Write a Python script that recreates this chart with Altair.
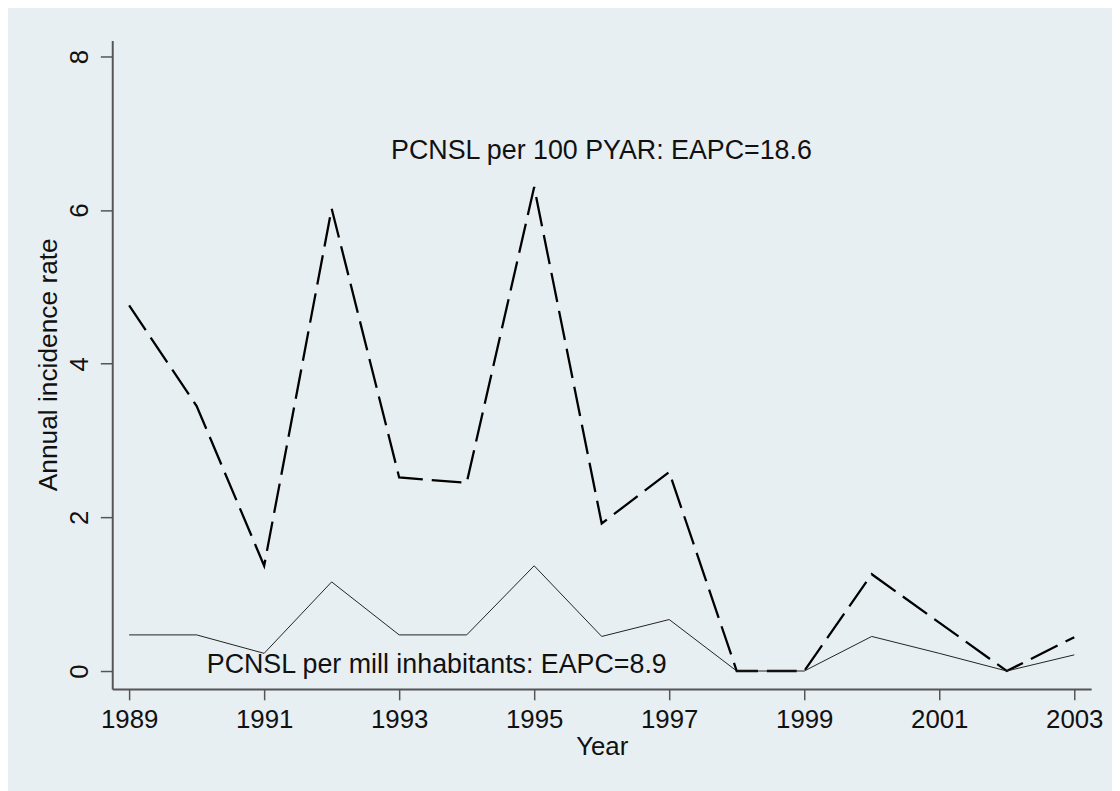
import altair as alt
import pandas as pd

years = list(range(1989, 2004))
per_100_pyar = [4.76, 3.45, 1.37, 6.02, 2.52, 2.45, 6.30, 1.92, 2.59, 0.0, 0.0, 1.26, 0.63, 0.0, 0.44]
per_mill = [0.47, 0.47, 0.23, 1.16, 0.47, 0.47, 1.37, 0.45, 0.67, 0.0, 0.0, 0.45, 0.23, 0.0, 0.21]

x_ticks = [1989, 1991, 1993, 1995, 1997, 1999, 2001, 2003]
y_ticks = [0, 2, 4, 6, 8]

labels_text = ["PCNSL per 100 PYAR: EAPC=18.6", "PCNSL per mill inhabitants: EAPC=8.9"]
labels_x = [1992.88, 1990.15]
labels_y = [6.669, -0.026]

df = pd.DataFrame({"Year": years, "pyar": per_100_pyar, "mill": per_mill})
lab = pd.DataFrame({"text": labels_text, "x": labels_x, "y": labels_y})

FONT = "Liberation Sans"
xscale = alt.Scale(domain=[1988.75, 2003.25], nice=False, zero=False)
yscale = alt.Scale(domain=[-0.233, 8.207], nice=False, zero=False)

xaxis = alt.Axis(
    values=x_ticks, format="d", title="Year", grid=False,
    domainColor="#555555", domainWidth=2, tickColor="#555555", tickWidth=1.5, tickSize=11,
    labelFont=FONT, labelFontSize=26, labelColor="#111111", labelPadding=28,
    labelBaseline="alphabetic", labelAlign="center", labelFlush=False, labelOverlap=False,
    titleFont=FONT, titleFontSize=26, titleFontWeight="normal", titleColor="#111111",
    titleX=493, titleY=66, titleBaseline="alphabetic", titleAlign="center",
)
yaxis = alt.Axis(
    values=y_ticks, format="d", title="Annual incidence rate", grid=False,
    domainColor="#555555", domainWidth=2, tickColor="#555555", tickWidth=1.5, tickSize=12,
    labelFont=FONT, labelFontSize=26, labelColor="#111111", labelPadding=13,
    labelAngle=270, labelBaseline="alphabetic", labelAlign="center", labelFlush=False, labelOverlap=False,
    titleFont=FONT, titleFontSize=26.5, titleFontWeight="normal", titleColor="#111111",
    titleAngle=270, titleX=-56, titleY=326, titleBaseline="alphabetic", titleAlign="center",
)

base = alt.Chart(df)
dashed = base.mark_line(color="#000000", strokeWidth=2.3, strokeDash=[30, 9]).encode(
    x=alt.X("Year:Q", scale=xscale, axis=xaxis),
    y=alt.Y("pyar:Q", scale=yscale, axis=yaxis),
)
solid = base.mark_line(color="#222222", strokeWidth=1).encode(
    x=alt.X("Year:Q", scale=xscale),
    y=alt.Y("mill:Q", scale=yscale),
)
texts = alt.Chart(lab).mark_text(
    font=FONT, fontSize=27, align="left", baseline="alphabetic", color="#111111"
).encode(
    x=alt.X("x:Q", scale=xscale),
    y=alt.Y("y:Q", scale=yscale),
    text="text:N",
)

chart = alt.layer(dashed, solid, texts).properties(
    width=986, height=653,
    autosize=alt.AutoSizeParams(type="none"),
    padding={"left": 105, "top": 30, "right": 21, "bottom": 100},
    background="#e8eff2",
).configure_view(stroke=None)

chart.save("out.html", embed_options={"renderer": "svg", "actions": False})
